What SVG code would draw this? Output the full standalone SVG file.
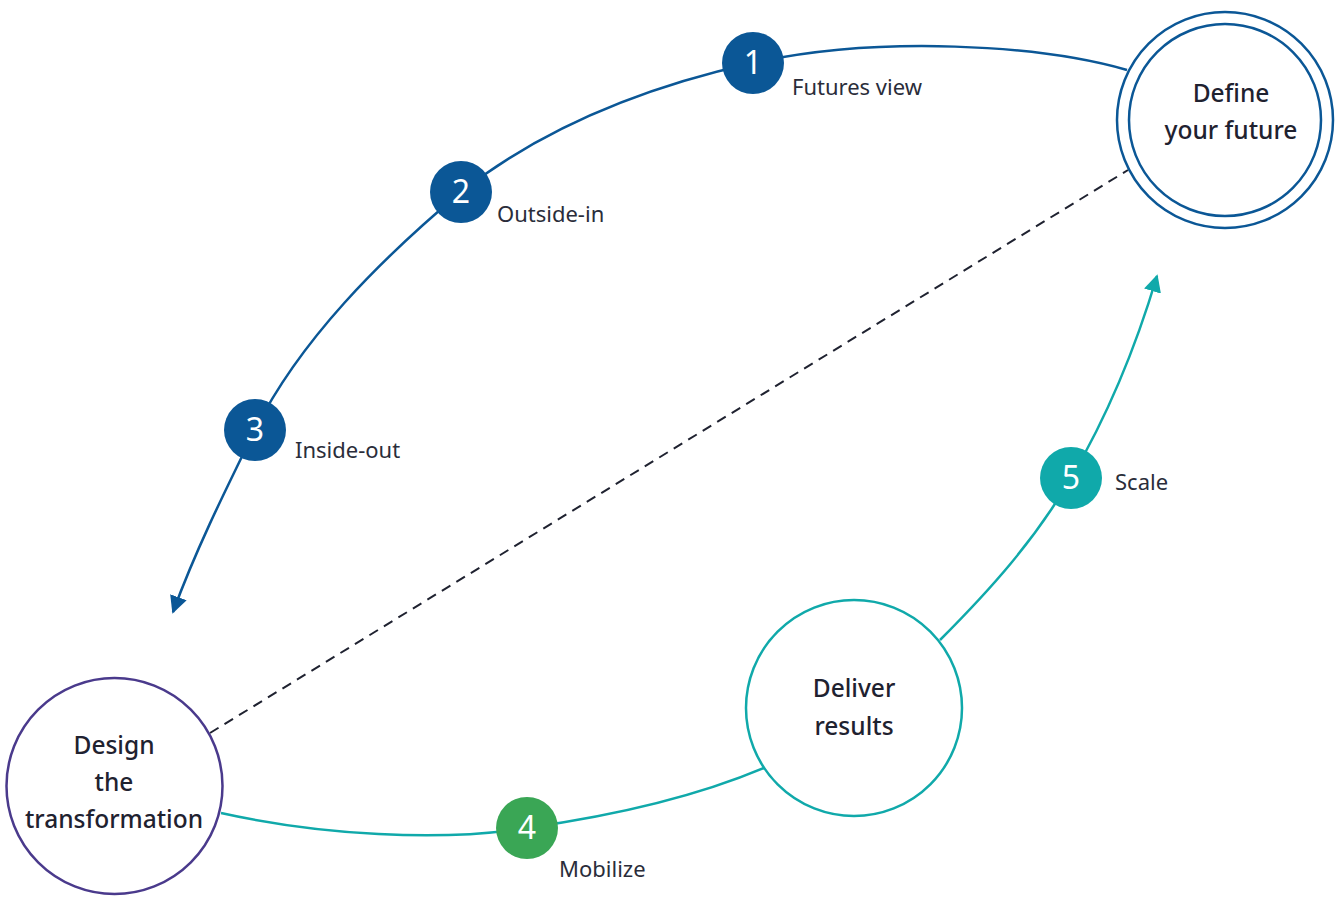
<svg xmlns="http://www.w3.org/2000/svg" width="1335" height="899" viewBox="0 0 1335 899">
  <style>
    .node-title { font-family: "Noto Sans", "Liberation Sans", sans-serif; font-size: 24.5px; font-weight: 500; fill: #1f2230; text-anchor: middle; }
    .step-num { font-family: "Noto Sans", "Liberation Sans", sans-serif; font-size: 32px; fill: #ffffff; text-anchor: middle; }
    .step-label { font-family: "Noto Sans", "Liberation Sans", sans-serif; font-size: 22px; fill: #2a2d3a; }
    .ring { fill: #ffffff; stroke-width: 2.5; }
    .blue-line { fill: none; stroke: #0b5796; stroke-width: 2.5; }
    .teal-line { fill: none; stroke: #10a9aa; stroke-width: 2.5; }
  </style>
  <defs>
    <marker id="arrow-blue" viewBox="0 0 10 10" refX="9" refY="5" markerWidth="7" markerHeight="7" markerUnits="strokeWidth" orient="auto">
      <path d="M0,0 L10,5 L0,10 Z" fill="#0b5796"/>
    </marker>
    <marker id="arrow-teal" viewBox="0 0 10 10" refX="9" refY="5" markerWidth="7" markerHeight="7" markerUnits="strokeWidth" orient="auto">
      <path d="M0,0 L10,5 L0,10 Z" fill="#10a9aa"/>
    </marker>
  </defs>

  <g id="connectors">
    <path class="blue-line" d="M1127,70 C1040,45 880,35 753,63 C640,88 540,130 461,192 C380,260 300,340 255,430 C222,497 195,552 173,612" marker-end="url(#arrow-blue)"/>
    <path class="teal-line" d="M221,813 C320,835 440,842 527,828 C620,815 700,795 764,768"/>
    <path class="teal-line" d="M940,640 C990,590 1035,540 1071,478 C1105,420 1135,350 1157,276" marker-end="url(#arrow-teal)"/>
    <line x1="210" y1="733" x2="1128" y2="170" stroke="#1f2230" stroke-width="2" stroke-dasharray="10,7"/>
  </g>

  <g id="node-define">
    <circle class="ring" cx="1225" cy="120" r="108" stroke="#0b5796"/>
    <circle class="ring" cx="1225" cy="120" r="96" stroke="#0b5796"/>
    <text class="node-title" x="1231" y="102">Define</text>
    <text class="node-title" x="1231" y="139">your future</text>
  </g>

  <g id="node-design">
    <circle class="ring" cx="114.5" cy="786" r="108" stroke="#4a3a8c"/>
    <text class="node-title" x="114" y="754">Design</text>
    <text class="node-title" x="114" y="791">the</text>
    <text class="node-title" x="114" y="828">transformation</text>
  </g>

  <g id="node-deliver">
    <circle class="ring" cx="854" cy="708" r="108" stroke="#10a9aa"/>
    <text class="node-title" x="854" y="697">Deliver</text>
    <text class="node-title" x="854" y="735">results</text>
  </g>

  <g id="step-1">
    <circle cx="753" cy="63" r="31" fill="#0b5796"/>
    <text class="step-num" x="753" y="74">1</text>
    <text class="step-label" x="792" y="95">Futures view</text>
  </g>
  <g id="step-2">
    <circle cx="461" cy="192" r="31" fill="#0b5796"/>
    <text class="step-num" x="461" y="203">2</text>
    <text class="step-label" x="497" y="222">Outside-in</text>
  </g>
  <g id="step-3">
    <circle cx="255" cy="430" r="31" fill="#0b5796"/>
    <text class="step-num" x="255" y="441">3</text>
    <text class="step-label" x="295" y="458">Inside-out</text>
  </g>
  <g id="step-4">
    <circle cx="527" cy="828" r="31" fill="#3aa655"/>
    <text class="step-num" x="527" y="839">4</text>
    <text class="step-label" x="559" y="877">Mobilize</text>
  </g>
  <g id="step-5">
    <circle cx="1071" cy="478" r="31" fill="#10a9aa"/>
    <text class="step-num" x="1071" y="489">5</text>
    <text class="step-label" x="1115" y="490">Scale</text>
  </g>
</svg>
